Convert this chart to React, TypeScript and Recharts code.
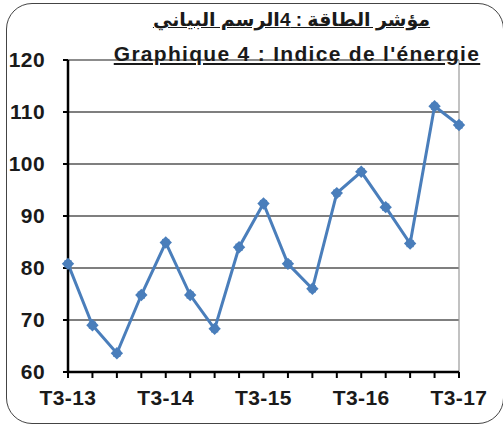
import React from 'react';
import { LineChart, Line, XAxis, YAxis, CartesianGrid, ReferenceLine } from 'recharts';

const quarters = [
  'T3-13', 'T4-13', 'T1-14', 'T2-14', 'T3-14', 'T4-14', 'T1-15', 'T2-15', 'T3-15',
  'T4-15', 'T1-16', 'T2-16', 'T3-16', 'T4-16', 'T1-17', 'T2-17', 'T3-17',
];
const energyIndex = [80.8, 69.0, 63.6, 74.8, 84.9, 74.8, 68.3, 84.0, 92.4, 80.8, 76.0, 94.4, 98.5, 91.7, 84.7, 111.1, 107.5];
const yTicks = [60, 70, 80, 90, 100, 110, 120];
const titleAr = 'مؤشر الطاقة : 4الرسم البياني';
const titleFr = "Graphique 4 : Indice de l'énergie";

const data = quarters.map((q, i) => ({ q, v: energyIndex[i] }));

const BLUE = '#4A7EBB';
const FONT = '"Liberation Sans", Arial, "DejaVu Sans", sans-serif';

const Marker = (props: any) => {
  const { cx, cy } = props;
  if (cx == null || cy == null) return null;
  const d = 6.2;
  const s = 3.6;
  return (
    <g>
      <polygon points={`${cx},${cy - d} ${cx + d},${cy} ${cx},${cy + d} ${cx - d},${cy}`} fill={BLUE} />
      <rect x={cx - s} y={cy - s} width={2 * s} height={2 * s} fill={BLUE} />
    </g>
  );
};

const tickStyle = { fill: '#1a1a1a', fontSize: 21, fontWeight: 'bold', fontFamily: FONT, letterSpacing: 0.4 };

export default function App() {
  return (
    <div style={{ position: 'absolute', left: 0, top: 0, width: 503, height: 428, overflow: 'hidden', background: '#fff' }}>
      <div
        style={{
          position: 'absolute', left: 6, top: 3, width: 498, height: 421,
          border: '1.5px solid #444', borderRadius: 26, boxSizing: 'border-box',
        }}
      />
      <div style={{ position: 'absolute', left: 0, top: 0 }}>
        <LineChart width={503} height={428} data={data} margin={{ top: 60, right: 44, bottom: 0, left: 8 }}>
          <CartesianGrid vertical={false} stroke="#000" strokeWidth={1.1} />
          <ReferenceLine y={120} stroke="#999" strokeWidth={1.2} />
          <ReferenceLine x="T3-17" stroke="#999" strokeWidth={1.2} />
          <XAxis
            dataKey="q"
            interval={0}
            height={56}
            tickFormatter={(v: string) => (v.startsWith('T3') ? v : '')}
            tickSize={6}
            tickMargin={12}
            axisLine={{ stroke: '#000', strokeWidth: 2.5 }}
            tickLine={{ stroke: '#000', strokeWidth: 2 }}
            tick={tickStyle}
          />
          <YAxis
            domain={[60, 120]}
            ticks={yTicks}
            width={60}
            tickSize={5}
            tickMargin={18}
            axisLine={{ stroke: '#000', strokeWidth: 2.5 }}
            tickLine={{ stroke: '#000', strokeWidth: 2 }}
            tick={tickStyle}
          />
          <Line
            type="linear"
            dataKey="v"
            stroke={BLUE}
            strokeWidth={3}
            dot={<Marker />}
            activeDot={false}
            isAnimationActive={false}
          />
        </LineChart>
      </div>
      <div
        dir="rtl"
        style={{
          position: 'absolute', left: 0, width: 583, top: 8, textAlign: 'center',
          fontFamily: FONT, fontWeight: 'bold', fontSize: 19, textDecoration: 'underline',
          color: '#1a1a1a', lineHeight: '24px', whiteSpace: 'nowrap',
        }}
      >
        {titleAr}
      </div>
      <div
        style={{
          position: 'absolute', left: 0, width: 594, top: 42, textAlign: 'center',
          fontFamily: FONT, fontWeight: 'bold', fontSize: 21, letterSpacing: 1.3, textDecoration: 'underline',
          color: '#1a1a1a', lineHeight: '24px', whiteSpace: 'nowrap',
        }}
      >
        {titleFr}
      </div>
    </div>
  );
}
